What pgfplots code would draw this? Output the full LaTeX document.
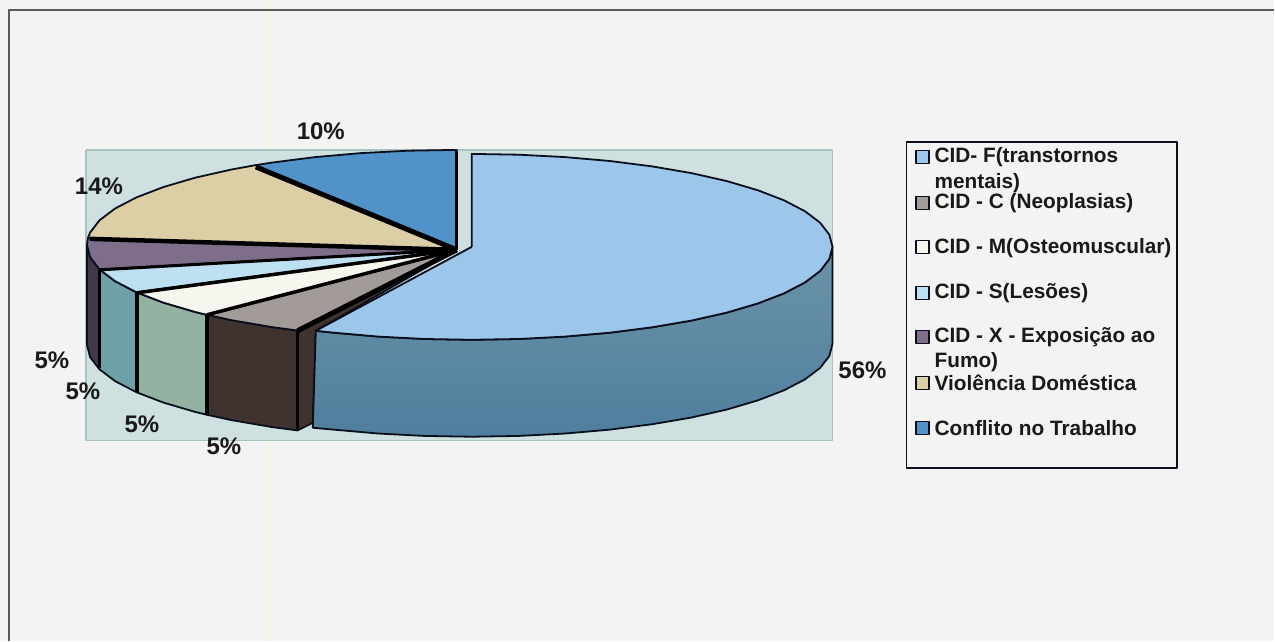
\documentclass[border=0pt]{standalone}
\usepackage{pgfplots}
\pgfplotsset{compat=1.18}
\usepackage{fontspec}
\setmainfont{Liberation Sans}
\definecolor{paper}{HTML}{F3F3F3}
\definecolor{band}{HTML}{F3F3E6}
\definecolor{wallbg}{HTML}{CFE0E0}
\definecolor{wallln}{HTML}{A9C3C0}
\definecolor{ink}{HTML}{0A0F1E}
\definecolor{topF}{HTML}{9CC6EA}
\definecolor{sideFa}{HTML}{6B93A6}
\definecolor{sideFb}{HTML}{4F7F9F}
\definecolor{topC}{HTML}{A39B98}
\definecolor{sideC}{HTML}{40332F}
\definecolor{topM}{HTML}{F6F5EE}
\definecolor{sideM}{HTML}{93B2A2}
\definecolor{topS}{HTML}{BDE0F3}
\definecolor{sideS}{HTML}{6EA0A8}
\definecolor{topX}{HTML}{7E6E8A}
\definecolor{sideX}{HTML}{40394A}
\definecolor{topV}{HTML}{DCCFA6}
\definecolor{topT}{HTML}{5193C9}
\newcommand{\pct}[3]{\node[font=\fontsize{24}{26}\selectfont\bfseries,text=black!90] at (axis cs:#1,#2) {#3};}
\newcommand{\leg}[2]{\node[anchor=west,inner sep=0pt,font=\fontsize{20.8}{22}\selectfont\bfseries,text=black!90] at (axis cs:935,#1) {#2};}
\begin{document}
\begin{tikzpicture}
\begin{axis}[
  width=1275pt, height=641pt, scale only axis,
  xmin=0, xmax=1275, ymin=0, ymax=641, y dir=reverse,
  axis lines=none, clip=false,
  line join=round,
]
% sheet, pale vertical band and the frame lines
\addplot[fill=paper,draw=none] coordinates {(0,0)(1275,0)(1275,641)(0,641)(0,0)};
\addplot[fill=band,draw=none] coordinates {(268,0)(274,0)(274,641)(268,641)(268,0)};
\addplot[draw=black!65,line width=1.6pt] coordinates {(9,641)(9,10)(1275,10)};

% plot wall
\addplot[fill=wallbg,draw=wallln,line width=1.2pt] coordinates {(86,150)(833,150)(833,441)(86,441)(86,150)};

% side faces of the main body
\addplot[fill=sideX,draw=ink,line width=1.8pt] coordinates {(87,245)(90.2,257.4)(99.6,269.6)(99.6,369.6)(90.2,357.4)(87,345)(87,245)};
\addplot[fill=sideS,draw=ink,line width=1.8pt] coordinates {(99.6,269.6)(115.2,281.4)(136.6,292.5)(136.6,392.5)(115.2,381.4)(99.6,369.6)(99.6,269.6)};
\addplot[fill=sideM,draw=ink,line width=1.8pt] coordinates {(136.6,292.5)(163.4,302.8)(195.4,312.2)(207,315)(207,415)(195.4,412.2)(163.4,402.8)(136.6,392.5)(136.6,292.5)};
\addplot[fill=sideC,draw=ink,line width=1.8pt] coordinates {(207,315)(231.7,320.4)(272,327.3)(297.7,330.7)(297.7,430.7)(272,427.3)(231.7,420.4)(207,415)(207,315)};
% inner cut face beside the detached slice
\addplot[fill=sideC,draw=ink,line width=1.8pt] coordinates {(457,250)(297.7,330.7)(297.7,430.7)(313,423)(316,331)(457,250)};

% top faces, going round from the front
\addplot[fill=topC,draw=ink,line width=1.8pt] coordinates {(457,250)(207,315)(231.7,320.4)(272,327.3)(297.7,330.7)(457,250)};
\addplot[fill=topM,draw=ink,line width=1.8pt] coordinates {(457,250)(136.6,292.5)(163.4,302.8)(195.4,312.2)(207,315)(457,250)};
\addplot[fill=topS,draw=ink,line width=1.8pt] coordinates {(457,250)(99.6,269.6)(115.2,281.4)(136.6,292.5)(457,250)};
\addplot[fill=topX,draw=ink,line width=1.8pt] coordinates {(457,250)(87.9,238.4)(87,245)(90.2,257.4)(99.6,269.6)(457,250)};
\addplot[fill=topV,draw=ink,line width=1.8pt] coordinates {(457,250)(255.5,165.3)(231.7,169.6)(195.4,177.8)(163.4,187.2)(136.6,197.5)(115.2,208.6)(99.6,220.4)(90.2,232.6)(87.9,238.4)(457,250)};
\addplot[fill=topT,draw=ink,line width=1.8pt] coordinates {(457,250)(457,150)(408.7,150.8)(361.2,153.2)(315.4,157.2)(272,162.7)(255.5,165.3)(457,250)};

% heavy seams between the slices
\addplot[draw=black,line width=5pt] coordinates {(256,167)(457,250)};
\addplot[draw=black,line width=4.5pt] coordinates {(90,239)(457,250)};
\addplot[draw=black,line width=3pt] coordinates {(100,270)(457,250)};
\addplot[draw=black,line width=3.5pt] coordinates {(137,293)(457,250)};
\addplot[draw=black,line width=3.5pt] coordinates {(207,315)(457,250)};
\addplot[draw=black,line width=5pt] coordinates {(297.7,331)(457,250)};
\addplot[draw=black,line width=3pt] coordinates {(457,151)(457,250)};
\addplot[draw=black,line width=3pt] coordinates {(100,270)(100,368)};
\addplot[draw=black,line width=4pt] coordinates {(137,293)(137,392)};
\addplot[draw=black,line width=3.5pt] coordinates {(207,315)(207,414)};
\addplot[draw=black,line width=3.5pt] coordinates {(297.7,332)(297.7,429)};

% detached slice: rim first, then its top
\addplot[top color=sideFa,bottom color=sideFb,draw=ink,line width=1.8pt] coordinates {
  (833,247)(829.9,259.1)(820.7,271.1)(805.5,282.6)(784.6,293.5)(758.4,303.6)(727.3,312.8)(691.8,320.8)(652.5,327.5)(610.2,332.9)(565.4,336.8)(519.1,339.2)(472,340)(424.9,339.2)(378.6,336.8)(333.8,332.9)(316,331)
  (313,428)(333.8,429.9)(378.6,433.8)(424.9,436.2)(472,437)(519.1,436.2)(565.4,433.8)(610.2,429.9)(652.5,424.5)(691.8,417.8)(727.3,409.8)(758.4,400.6)(784.6,390.5)(805.5,379.6)(820.7,368.1)(829.9,356.1)(833,344)(833,247)};
\addplot[fill=topF,draw=ink,line width=1.8pt] coordinates {
  (472,247)(472,154)(519.1,154.8)(565.4,157.2)(610.2,161.1)(652.5,166.5)(691.8,173.2)(727.3,181.2)(758.4,190.4)(784.6,200.5)(805.5,211.4)(820.7,222.9)(829.9,234.9)(833,247)(829.9,259.1)(820.7,271.1)(805.5,282.6)(784.6,293.5)(758.4,303.6)(727.3,312.8)(691.8,320.8)(652.5,327.5)(610.2,332.9)(565.4,336.8)(519.1,339.2)(472,340)(424.9,339.2)(378.6,336.8)(333.8,332.9)(316,331)(472,247)};

% percentage labels
\pct{321}{131}{10\%}
\pct{99}{186}{14\%}
\pct{52}{360}{5\%}
\pct{83}{392}{5\%}
\pct{142}{425}{5\%}
\pct{224}{447}{5\%}
\pct{863}{370}{56\%}

% legend box and keys
\addplot[fill=paper,draw=ink,line width=1.8pt] coordinates {(907,142)(1178,142)(1178,468)(907,468)(907,142)};
\addplot[only marks,mark=square*,mark size=6.5pt,mark options={draw=ink,line width=1.4pt,fill=topF}] coordinates {(923,157)};
\addplot[only marks,mark=square*,mark size=6.5pt,mark options={draw=ink,line width=1.4pt,fill=topC}] coordinates {(923,203)};
\addplot[only marks,mark=square*,mark size=6.5pt,mark options={draw=ink,line width=1.4pt,fill=topM}] coordinates {(923,247)};
\addplot[only marks,mark=square*,mark size=6.5pt,mark options={draw=ink,line width=1.4pt,fill=topS}] coordinates {(923,293)};
\addplot[only marks,mark=square*,mark size=6.5pt,mark options={draw=ink,line width=1.4pt,fill=topX}] coordinates {(923,337)};
\addplot[only marks,mark=square*,mark size=6.5pt,mark options={draw=ink,line width=1.4pt,fill=topV}] coordinates {(923,383)};
\addplot[only marks,mark=square*,mark size=6.5pt,mark options={draw=ink,line width=1.4pt,fill=topT}] coordinates {(923,428)};
\leg{157}{CID- F(transtornos}
\leg{183}{mentais)}
\leg{203}{CID - C (Neoplasias)}
\leg{248}{CID - M(Osteomuscular)}
\leg{293}{CID - S(Lesões)}
\leg{337}{CID - X - Exposição ao}
\leg{362}{Fumo)}
\leg{383}{Violência Doméstica}
\leg{428}{Conflito no Trabalho}
\end{axis}
\end{tikzpicture}
\end{document}
